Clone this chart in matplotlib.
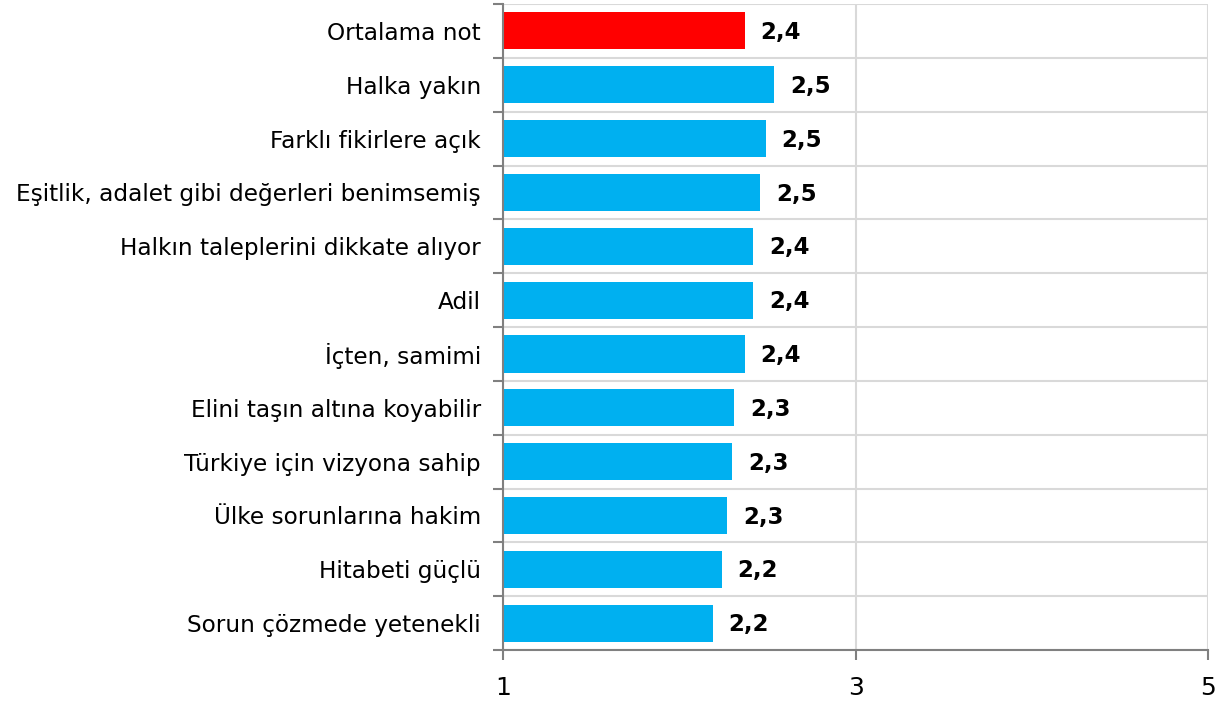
import numpy as np
import matplotlib.pyplot as plt

categories = [
    "Ortalama not",
    "Halka yakın",
    "Farklı fikirlere açık",
    "Eşitlik, adalet gibi değerleri benimsemiş",
    "Halkın taleplerini dikkate alıyor",
    "Adil",
    "İçten, samimi",
    "Elini taşın altına koyabilir",
    "Türkiye için vizyona sahip",
    "Ülke sorunlarına hakim",
    "Hitabeti güçlü",
    "Sorun çözmede yetenekli",
]
values = [2.37, 2.54, 2.49, 2.46, 2.42, 2.42, 2.37, 2.31, 2.30, 2.27, 2.24, 2.19]
colors = ["#FF0000"] + ["#00B0F0"] * 11
x_ticks = [1, 3, 5]

fig = plt.figure(figsize=(12.24, 7.02), dpi=100)
ax = fig.add_axes([0.411, 0.074, 0.576, 0.9203])

n = len(categories)
y = np.arange(n)
vals = np.array(values)
ax.barh(y, vals - 1, left=1, height=0.69, color=colors, zorder=3)

for yi, v in zip(y, vals):
    ax.text(v + 0.09, yi + 0.03, f"{v:.1f}".replace(".", ","), va="center", ha="left",
            fontsize=16.5, fontweight="heavy", family="DejaVu Sans", color="black", zorder=4)

ax.set_xlim(1, 5)
ax.set_ylim(n - 0.5, -0.5)
ax.set_xticks(x_ticks)
ax.set_xticklabels([str(t) for t in x_ticks], fontsize=18)

ax.set_yticks(np.arange(-0.5, n, 1))
ax.set_yticklabels([])
ax.set_yticks(y, minor=True)
ax.set_yticklabels(categories, minor=True, fontsize=16.7)
ax.tick_params(axis="y", which="minor", length=0, pad=16)
ax.tick_params(axis="y", which="major", length=7, width=1.5, color="#808080")
ax.tick_params(axis="x", length=7, width=1.5, color="#808080", pad=12)

ax.grid(True, which="major", color="#d9d9d9", linewidth=1.5, zorder=0)
for s in ["top", "right"]:
    ax.spines[s].set_visible(False)
for s in ["left", "bottom"]:
    ax.spines[s].set_color("#808080")
    ax.spines[s].set_linewidth(1.5)
    ax.spines[s].set_zorder(5)

fig.savefig("out.png", dpi=100)
